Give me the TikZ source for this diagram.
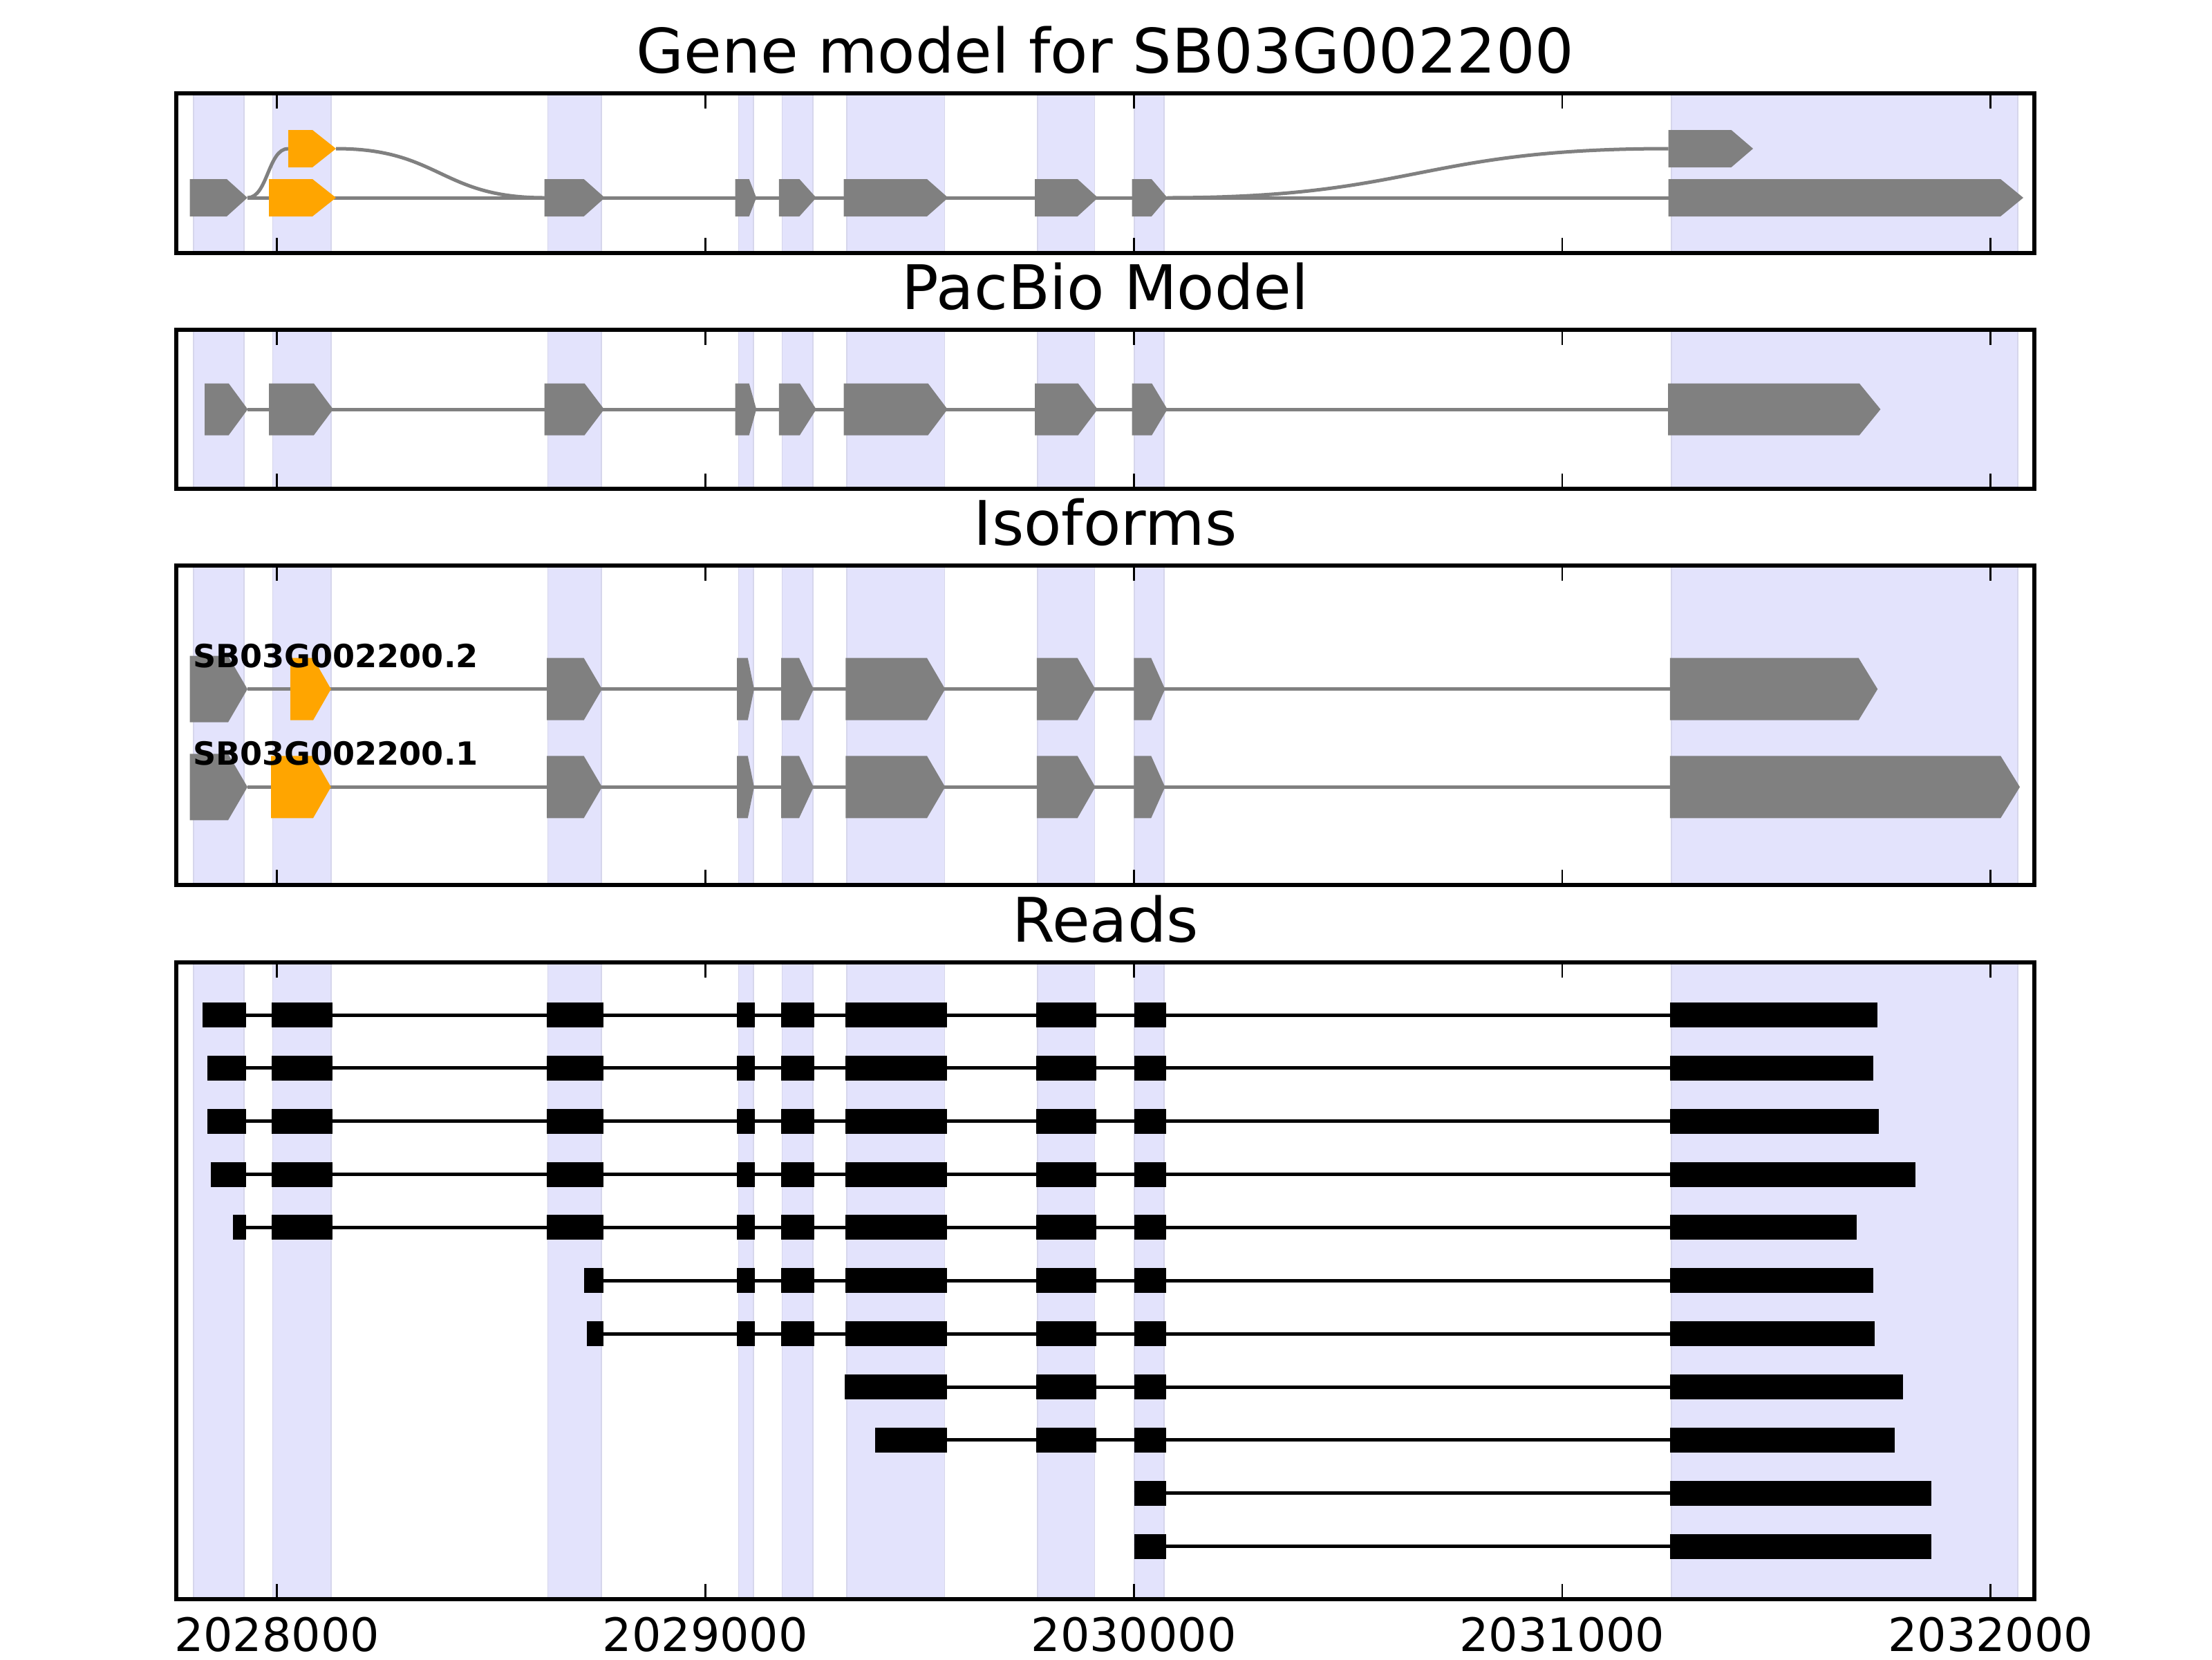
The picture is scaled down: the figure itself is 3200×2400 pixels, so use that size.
\documentclass[tikz,border=0pt]{standalone}
\usepackage{fontspec}
\setmainfont{DejaVu Sans}
\definecolor{spanfill}{HTML}{E3E3FC}
\definecolor{spanedge}{HTML}{D6D6EC}
\definecolor{exgray}{HTML}{808080}
\definecolor{exorange}{HTML}{FFA500}
\newcommand{\gx}[6]{\fill[#6] (#1,#4-#5) -- (#2,#4-#5) -- (#3,#4) -- (#2,#4+#5) -- (#1,#4+#5) -- cycle;}
\newcommand{\spanset}[2]{\foreach \a/\b in {279.8/353.3, 394.6/478.8, 792.6/870, 1068.4/1090, 1131.5/1176, 1224.8/1366.4, 1500.8/1583.5, 1641/1684, 2418/2919} {\filldraw[spanbox] (\a,#1) rectangle (\b,#2);}}
\newcommand{\pticks}[2]{\foreach \t in {400.5,1020.3,1640.1,2259.9,2879.7} {\draw[tickline] (\t,#1) -- ++(0,22); \draw[tickline] (\t,#2) -- ++(0,-22);}}
\newcommand{\pframe}[2]{\draw[frameline] (255,#1) rectangle (2943,#2);}
\newcommand{\rblocks}[2]{\foreach \a/\b in {#2} {\fill[black] (\a,#1-18) rectangle (\b,#1+18);}}
\begin{document}
\begin{tikzpicture}[x=0.18pt,y=-0.18pt,
  spanbox/.style={fill=spanfill,draw=spanedge,line width=0.3pt},
  tickline/.style={line width=0.5pt,black},
  frameline/.style={line width=1pt,black},
  intr/.style={line width=0.9pt,exgray},
  readl/.style={line width=0.9pt,black},
  ttl/.style={anchor=base,inner sep=0pt,font=\fontsize{16}{19}\selectfont},
  tlab/.style={anchor=base,inner sep=0pt,font=\fontsize{12}{14}\selectfont},
  isolab/.style={anchor=base west,inner sep=0pt,font=\fontsize{8.3}{10}\selectfont\bfseries}]
\useasboundingbox[fill=white] (0,0) rectangle (3200,2400);

% ---------- Panel 1: Gene model ----------
\spanset{135}{366}
\draw[intr] (358,286) -- (2413.6,286);
\draw[intr] (358,286) .. controls (387.5,286) and (387.5,215) .. (417,215);
\draw[intr] (486,215) .. controls (636.5,215) and (636.5,286) .. (787.5,286);
\draw[intr] (1688.8,286) .. controls (2051,286) and (2051,215) .. (2413.6,215);
\gx{274.7}{328}{358}{286}{27}{exgray}
\gx{389}{452}{486}{286}{27}{exorange}
\gx{787.5}{844.6}{875}{286}{27}{exgray}
\gx{1063.6}{1083.7}{1094.2}{286}{27}{exgray}
\gx{1126.8}{1156.4}{1180.8}{286}{27}{exgray}
\gx{1220.5}{1341}{1371.6}{286}{27}{exgray}
\gx{1497}{1558.7}{1588.3}{286}{27}{exgray}
\gx{1637.6}{1665.8}{1688.8}{286}{27}{exgray}
\gx{2413.6}{2894}{2927}{286}{27}{exgray}
\gx{417}{452}{486}{215}{27}{exorange}
\gx{2413.6}{2504.5}{2536}{215}{27}{exgray}
\pticks{135}{366}
\pframe{135}{366}
\node[ttl] (t1) at (1599,105) {Gene model for SB03G002200};

% ---------- Panel 2: PacBio ----------
\spanset{477}{707}
\draw[intr] (358.4,592) -- (2413,592);
\gx{296}{330.8}{358.4}{592}{37.5}{exgray}
\gx{389}{454}{482}{592}{37.5}{exgray}
\gx{787.5}{845.6}{874}{592}{37.5}{exgray}
\gx{1063.6}{1083.7}{1094.2}{592}{37.5}{exgray}
\gx{1126.8}{1157}{1180.8}{592}{37.5}{exgray}
\gx{1220.5}{1342.5}{1370.7}{592}{37.5}{exgray}
\gx{1497}{1559.6}{1587.8}{592}{37.5}{exgray}
\gx{1637.6}{1666.3}{1688.8}{592}{37.5}{exgray}
\gx{2413}{2689.8}{2720.4}{592}{37.5}{exgray}
\pticks{477}{707}
\pframe{477}{707}
\node[ttl] (t2) at (1599,447) {PacBio Model};

% ---------- Panel 3: Isoforms ----------
\spanset{818}{1280}
\foreach \yc in {996.7,1138.3} {\draw[intr] (358,\yc) -- (2415.8,\yc);}
\foreach \yc in {996.7,1138.3} {
  \gx{274.7}{330}{358}{\yc}{48}{exgray}
  \gx{791}{844.6}{871}{\yc}{45}{exgray}
  \gx{1066}{1081.8}{1090.9}{\yc}{45}{exgray}
  \gx{1130}{1156}{1177}{\yc}{45}{exgray}
  \gx{1223.4}{1341}{1367.3}{\yc}{45}{exgray}
  \gx{1499.8}{1558.7}{1584.5}{\yc}{45}{exgray}
  \gx{1640.4}{1665.3}{1685.4}{\yc}{45}{exgray}
}
\gx{420}{453}{478.8}{996.7}{45}{exorange}
\gx{2415.8}{2688.7}{2716.2}{996.7}{45}{exgray}
\gx{392}{453}{478.8}{1138.3}{45}{exorange}
\gx{2415.8}{2894.2}{2922}{1138.3}{45}{exgray}
\node[isolab] (l2) at (278,965) {SB03G002200.2};
\node[isolab] (l1) at (278,1106) {SB03G002200.1};
\pticks{818}{1280}
\pframe{818}{1280}
\node[ttl] (t3) at (1599,788) {Isoforms};

% ---------- Panel 4: Reads ----------
\spanset{1392}{2313}
% rows 1-5
\foreach \yc/\st/\en in {1468/293/2716, 1544.9/299.7/2710, 1621.7/299.7/2718, 1698.6/305.3/2771, 1775.4/337.4/2686} {
  \draw[readl] (\st,\yc) -- (2416,\yc);
  \rblocks{\yc}{\st/356.3, 392.6/481.3, 790.5/872.7, 1066/1092.3, 1129.6/1178.4, 1223.4/1369.7, 1499.4/1586.4, 1640.5/1687.3, 2416/\en}
}
% rows 6-7
\foreach \yc/\st/\en in {1852.3/844.6/2710, 1929.1/849/2712} {
  \draw[readl] (\st,\yc) -- (2416,\yc);
  \rblocks{\yc}{\st/872.7, 1066/1092.3, 1129.6/1178.4, 1223.4/1369.7, 1499.4/1586.4, 1640.5/1687.3, 2416/\en}
}
% rows 8-9
\foreach \yc/\st/\en in {2006/1222.4/2753, 2082.8/1266/2741} {
  \draw[readl] (\st,\yc) -- (2416,\yc);
  \rblocks{\yc}{\st/1369.7, 1499.4/1586.4, 1640.5/1687.3, 2416/\en}
}
% rows 10-11
\foreach \yc/\en in {2159.7/2794, 2236.5/2794} {
  \draw[readl] (1640.5,\yc) -- (2416,\yc);
  \rblocks{\yc}{1640.5/1687.3, 2416/\en}
}
\pticks{1392}{2313}
\pframe{1392}{2313}
\node[ttl] (t4) at (1599,1362) {Reads};

% tick labels
\node[tlab] (x1) at (400.5,2388) {2028000};
\node[tlab] (x2) at (1020.3,2388) {2029000};
\node[tlab] (x3) at (1640.1,2388) {2030000};
\node[tlab] (x4) at (2259.9,2388) {2031000};
\node[tlab] (x5) at (2879.7,2388) {2032000};
\end{tikzpicture}
\end{document}
